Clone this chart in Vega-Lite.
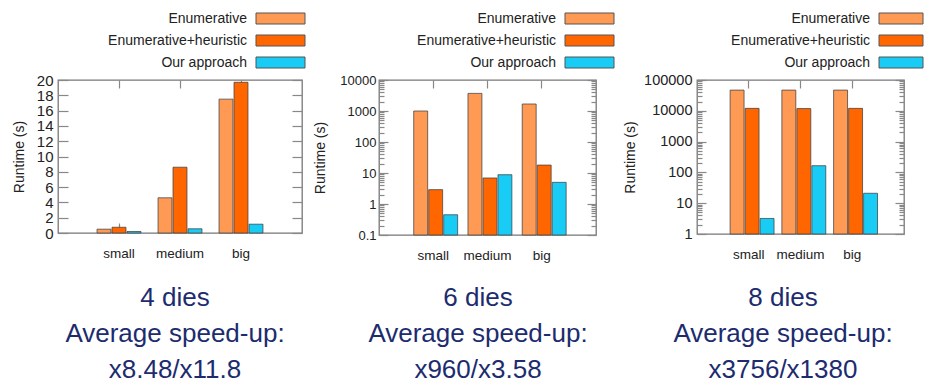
{
  "$schema": "https://vega.github.io/schema/vega-lite/v6.json",
  "padding": {"left": 11, "top": -62, "right": 0, "bottom": 0},
  "background": "white",
  "config": {
    "font": "Liberation Sans",
    "view": {"stroke": "#777777", "strokeWidth": 1.3},
    "axis": {"labelFont": "Liberation Sans", "labelColor": "#222222", "titleFont": "Liberation Sans", "titleFontSize": 14, "titleFontWeight": "normal", "titleColor": "#222222", "grid": false, "domain": false, "tickColor": "#888888", "tickWidth": 1.2, "labelOverlap": false},
    "legend": {"labelFont": "Liberation Sans"},
    "concat": {"spacing": 6}
  },
  "datasets": {
    "d4": [
      {"size": "small", "method": "Enumerative", "runtime": 0.5},
      {"size": "small", "method": "Enumerative+heuristic", "runtime": 0.75},
      {"size": "small", "method": "Our approach", "runtime": 0.2},
      {"size": "medium", "method": "Enumerative", "runtime": 4.6},
      {"size": "medium", "method": "Enumerative+heuristic", "runtime": 8.6},
      {"size": "medium", "method": "Our approach", "runtime": 0.55},
      {"size": "big", "method": "Enumerative", "runtime": 17.5},
      {"size": "big", "method": "Enumerative+heuristic", "runtime": 19.7},
      {"size": "big", "method": "Our approach", "runtime": 1.15}
    ],
    "d6": [
      {"size": "small", "method": "Enumerative", "runtime": 1000},
      {"size": "small", "method": "Enumerative+heuristic", "runtime": 2.9},
      {"size": "small", "method": "Our approach", "runtime": 0.45},
      {"size": "medium", "method": "Enumerative", "runtime": 3700},
      {"size": "medium", "method": "Enumerative+heuristic", "runtime": 6.9},
      {"size": "medium", "method": "Our approach", "runtime": 8.8},
      {"size": "big", "method": "Enumerative", "runtime": 1680},
      {"size": "big", "method": "Enumerative+heuristic", "runtime": 18},
      {"size": "big", "method": "Our approach", "runtime": 5.0}
    ],
    "d8": [
      {"size": "small", "method": "Enumerative", "runtime": 47000},
      {"size": "small", "method": "Enumerative+heuristic", "runtime": 12000},
      {"size": "small", "method": "Our approach", "runtime": 3.2},
      {"size": "medium", "method": "Enumerative", "runtime": 47000},
      {"size": "medium", "method": "Enumerative+heuristic", "runtime": 11800},
      {"size": "medium", "method": "Our approach", "runtime": 165},
      {"size": "big", "method": "Enumerative", "runtime": 47000},
      {"size": "big", "method": "Enumerative+heuristic", "runtime": 12000},
      {"size": "big", "method": "Our approach", "runtime": 21}
    ],
    "c4": [
      {"line": 1, "text": "4 dies"},
      {"line": 2, "text": "Average speed-up:"},
      {"line": 3, "text": "x8.48/x11.8"}
    ],
    "c6": [
      {"line": 1, "text": "6 dies"},
      {"line": 2, "text": "Average speed-up:"},
      {"line": 3, "text": "x960/x3.58"}
    ],
    "c8": [
      {"line": 1, "text": "8 dies"},
      {"line": 2, "text": "Average speed-up:"},
      {"line": 3, "text": "x3756/x1380"}
    ]
  },
  "resolve": {"scale": {"color": "independent"}, "legend": {"color": "independent"}},
  "hconcat": [
    {
      "spacing": 47,
      "bounds": "flush",
      "vconcat": [
        {
          "width": 244, "height": 153,
          "data": {"name": "d4"},
          "resolve": {"axis": {"x": "independent", "y": "independent"}},
          "layer": [
            {
              "mark": {"type": "bar", "stroke": "#404040", "strokeWidth": 1, "strokeOpacity": 0.75},
              "encoding": {
                "x": {"field": "size", "type": "nominal", "sort": ["small", "medium", "big"], "scale": {"paddingInner": 0.28, "paddingOuter": 0.64}, "axis": {"orient": "bottom", "title": null, "ticks": false, "domain": false, "labelAngle": 0, "labelPadding": 13, "labelFontSize": 13.5}},
                "xOffset": {"field": "method", "type": "nominal", "sort": ["Enumerative", "Enumerative+heuristic", "Our approach"], "scale": {"paddingInner": 0.07, "paddingOuter": 0}},
                "y": {"field": "runtime", "type": "quantitative", "scale": {"domain": [0, 20], "nice": false}, "axis": {"orient": "left", "title": "Runtime (s)", "ticks": false, "domain": false, "values": [0, 2, 4, 6, 8, 10, 12, 14, 16, 18, 20], "labelPadding": 5, "titlePadding": 10, "labelFontSize": 15}},
                "color": {"field": "method", "type": "nominal", "sort": ["Enumerative", "Enumerative+heuristic", "Our approach"], "scale": {"domain": ["Enumerative", "Enumerative+heuristic", "Our approach"], "range": ["#FF9A55", "#FF6600", "#19CCF5"]}, "legend": {"orient": "none", "legendX": 168, "legendY": -72, "title": null, "direction": "vertical", "symbolType": "M1.95,-0.55H6.85V0.55H1.95Z", "symbolSize": 400, "symbolStrokeWidth": 1, "symbolStrokeColor": "#555555", "labelAlign": "right", "labelOffset": 0, "labelFontSize": 14, "labelColor": "#222222", "rowPadding": 4, "padding": 0, "labelLimit": 400}}
              }
            },
            {
              "mark": {"type": "bar", "opacity": 0},
              "encoding": {
                "x": {"field": "size", "type": "nominal", "sort": ["small", "medium", "big"], "axis": {"orient": "top", "title": null, "labels": false, "domain": false, "tickSize": -8, "zindex": 0}},
                "y": {"field": "runtime", "type": "quantitative", "axis": {"orient": "left", "title": null, "labels": false, "domain": false, "tickSize": -10, "values": [0, 2, 4, 6, 8, 10, 12, 14, 16, 18, 20], "zindex": 0}}
              }
            },
            {
              "mark": {"type": "bar", "opacity": 0},
              "encoding": {
                "x": {"field": "size", "type": "nominal", "sort": ["small", "medium", "big"], "axis": {"orient": "bottom", "title": null, "labels": false, "domain": false, "tickSize": -10, "zindex": 0}},
                "y": {"field": "runtime", "type": "quantitative", "axis": {"orient": "right", "title": null, "labels": false, "domain": false, "tickSize": -10, "values": [0, 2, 4, 6, 8, 10, 12, 14, 16, 18, 20], "zindex": 0}}
              }
            }
          ]
        },
        {
          "width": 234, "height": 108,
          "view": {"stroke": null},
          "data": {"name": "c4"},
          "mark": {"type": "text", "font": "Liberation Sans", "fontSize": 26, "color": "#1c2c6e"},
          "encoding": {
            "y": {"field": "line", "type": "ordinal", "axis": null},
            "text": {"field": "text", "type": "nominal"}
          }
        }
      ]
    },
    {
      "spacing": 45,
      "bounds": "flush",
      "vconcat": [
        {
          "width": 217, "height": 155,
          "data": {"name": "d6"},
          "resolve": {"axis": {"x": "independent", "y": "independent"}},
          "layer": [
            {
              "mark": {"type": "bar", "stroke": "#404040", "strokeWidth": 1, "strokeOpacity": 0.75},
              "encoding": {
                "x": {"field": "size", "type": "nominal", "sort": ["small", "medium", "big"], "scale": {"paddingInner": 0.28, "paddingOuter": 0.64}, "axis": {"orient": "bottom", "title": null, "ticks": false, "domain": false, "labelAngle": 0, "labelPadding": 13, "labelFontSize": 13.5}},
                "xOffset": {"field": "method", "type": "nominal", "sort": ["Enumerative", "Enumerative+heuristic", "Our approach"], "scale": {"paddingInner": 0.07, "paddingOuter": 0}},
                "y": {"field": "runtime", "type": "quantitative", "scale": {"type": "log", "domain": [0.1, 10000], "nice": false}, "axis": {"orient": "left", "title": "Runtime (s)", "ticks": false, "domain": false, "values": [0.1, 1, 10, 100, 1000, 10000], "format": "~g", "labelPadding": 3, "titlePadding": 12, "labelFontSize": 13}},
                "y2": {"datum": 0.1},
                "color": {"field": "method", "type": "nominal", "sort": ["Enumerative", "Enumerative+heuristic", "Our approach"], "scale": {"domain": ["Enumerative", "Enumerative+heuristic", "Our approach"], "range": ["#FF9A55", "#FF6600", "#19CCF5"]}, "legend": {"orient": "none", "legendX": 156, "legendY": -72, "title": null, "direction": "vertical", "symbolType": "M1.95,-0.55H6.85V0.55H1.95Z", "symbolSize": 400, "symbolStrokeWidth": 1, "symbolStrokeColor": "#555555", "labelAlign": "right", "labelOffset": 0, "labelFontSize": 14, "labelColor": "#222222", "rowPadding": 4, "padding": 0, "labelLimit": 400}}
              }
            },
            {
              "mark": {"type": "bar", "opacity": 0},
              "encoding": {
                "x": {"field": "size", "type": "nominal", "sort": ["small", "medium", "big"], "axis": {"orient": "top", "title": null, "labels": false, "domain": false, "tickSize": -8, "zindex": 0}},
                "y": {"field": "runtime", "type": "quantitative", "axis": {"orient": "left", "title": null, "labels": false, "domain": false, "tickSize": -9, "values": [0.1, 1, 10, 100, 1000, 10000], "zindex": 0}},
                "y2": {"datum": 0.1}
              }
            },
            {
              "mark": {"type": "bar", "opacity": 0},
              "encoding": {
                "x": {"field": "size", "type": "nominal", "sort": ["small", "medium", "big"], "axis": {"orient": "bottom", "title": null, "labels": false, "domain": false, "tickSize": -10, "zindex": 0}},
                "y": {"field": "runtime", "type": "quantitative", "axis": {"orient": "right", "title": null, "labels": false, "domain": false, "tickSize": -9, "values": [0.1, 1, 10, 100, 1000, 10000], "zindex": 0}},
                "y2": {"datum": 0.1}
              }
            },
            {
              "mark": {"type": "bar", "opacity": 0},
              "encoding": {
                "x": {"field": "size", "type": "nominal", "sort": ["small", "medium", "big"], "axis": null},
                "y": {"field": "runtime", "type": "quantitative", "axis": {"orient": "left", "title": null, "labels": false, "domain": false, "tickSize": -5, "values": [0.2, 0.3, 0.4, 0.5, 0.6, 0.7, 0.8, 0.9, 2, 3, 4, 5, 6, 7, 8, 9, 20, 30, 40, 50, 60, 70, 80, 90, 200, 300, 400, 500, 600, 700, 800, 900, 2000, 3000, 4000, 5000, 6000, 7000, 8000, 9000], "zindex": 0}},
                "y2": {"datum": 0.1}
              }
            },
            {
              "mark": {"type": "bar", "opacity": 0},
              "encoding": {
                "x": {"field": "size", "type": "nominal", "sort": ["small", "medium", "big"], "axis": null},
                "y": {"field": "runtime", "type": "quantitative", "axis": {"orient": "right", "title": null, "labels": false, "domain": false, "tickSize": -5, "values": [0.2, 0.3, 0.4, 0.5, 0.6, 0.7, 0.8, 0.9, 2, 3, 4, 5, 6, 7, 8, 9, 20, 30, 40, 50, 60, 70, 80, 90, 200, 300, 400, 500, 600, 700, 800, 900, 2000, 3000, 4000, 5000, 6000, 7000, 8000, 9000], "zindex": 0}},
                "y2": {"datum": 0.1}
              }
            }
          ]
        },
        {
          "width": 198, "height": 108,
          "view": {"stroke": null},
          "data": {"name": "c6"},
          "mark": {"type": "text", "font": "Liberation Sans", "fontSize": 26, "color": "#1c2c6e"},
          "encoding": {
            "y": {"field": "line", "type": "ordinal", "axis": null},
            "text": {"field": "text", "type": "nominal"}
          }
        }
      ]
    },
    {
      "spacing": 46,
      "bounds": "flush",
      "vconcat": [
        {
          "width": 207, "height": 154,
          "data": {"name": "d8"},
          "resolve": {"axis": {"x": "independent", "y": "independent"}},
          "layer": [
            {
              "mark": {"type": "bar", "stroke": "#404040", "strokeWidth": 1, "strokeOpacity": 0.75},
              "encoding": {
                "x": {"field": "size", "type": "nominal", "sort": ["small", "medium", "big"], "scale": {"paddingInner": 0.28, "paddingOuter": 0.64}, "axis": {"orient": "bottom", "title": null, "ticks": false, "domain": false, "labelAngle": 0, "labelPadding": 13, "labelFontSize": 13.5}},
                "xOffset": {"field": "method", "type": "nominal", "sort": ["Enumerative", "Enumerative+heuristic", "Our approach"], "scale": {"paddingInner": 0.07, "paddingOuter": 0}},
                "y": {"field": "runtime", "type": "quantitative", "scale": {"type": "log", "domain": [1, 100000], "nice": false}, "axis": {"orient": "left", "title": "Runtime (s)", "ticks": false, "domain": false, "values": [1, 10, 100, 1000, 10000, 100000], "format": "~g", "labelPadding": 5, "titlePadding": 6, "labelFontSize": 14.5}},
                "y2": {"datum": 1},
                "color": {"field": "method", "type": "nominal", "sort": ["Enumerative", "Enumerative+heuristic", "Our approach"], "scale": {"domain": ["Enumerative", "Enumerative+heuristic", "Our approach"], "range": ["#FF9A55", "#FF6600", "#19CCF5"]}, "legend": {"orient": "none", "legendX": 152, "legendY": -72, "title": null, "direction": "vertical", "symbolType": "M1.95,-0.55H6.35V0.55H1.95Z", "symbolSize": 400, "symbolStrokeWidth": 1, "symbolStrokeColor": "#555555", "labelAlign": "right", "labelOffset": 0, "labelFontSize": 14, "labelColor": "#222222", "rowPadding": 4, "padding": 0, "labelLimit": 400}}
              }
            },
            {
              "mark": {"type": "bar", "opacity": 0},
              "encoding": {
                "x": {"field": "size", "type": "nominal", "sort": ["small", "medium", "big"], "axis": {"orient": "top", "title": null, "labels": false, "domain": false, "tickSize": -8, "zindex": 0}},
                "y": {"field": "runtime", "type": "quantitative", "axis": {"orient": "left", "title": null, "labels": false, "domain": false, "tickSize": -9, "values": [1, 10, 100, 1000, 10000, 100000], "zindex": 0}},
                "y2": {"datum": 1}
              }
            },
            {
              "mark": {"type": "bar", "opacity": 0},
              "encoding": {
                "x": {"field": "size", "type": "nominal", "sort": ["small", "medium", "big"], "axis": {"orient": "bottom", "title": null, "labels": false, "domain": false, "tickSize": -10, "zindex": 0}},
                "y": {"field": "runtime", "type": "quantitative", "axis": {"orient": "right", "title": null, "labels": false, "domain": false, "tickSize": -9, "values": [1, 10, 100, 1000, 10000, 100000], "zindex": 0}},
                "y2": {"datum": 1}
              }
            },
            {
              "mark": {"type": "bar", "opacity": 0},
              "encoding": {
                "x": {"field": "size", "type": "nominal", "sort": ["small", "medium", "big"], "axis": null},
                "y": {"field": "runtime", "type": "quantitative", "axis": {"orient": "left", "title": null, "labels": false, "domain": false, "tickSize": -5, "values": [2, 3, 4, 5, 6, 7, 8, 9, 20, 30, 40, 50, 60, 70, 80, 90, 200, 300, 400, 500, 600, 700, 800, 900, 2000, 3000, 4000, 5000, 6000, 7000, 8000, 9000, 20000, 30000, 40000, 50000, 60000, 70000, 80000, 90000], "zindex": 0}},
                "y2": {"datum": 1}
              }
            },
            {
              "mark": {"type": "bar", "opacity": 0},
              "encoding": {
                "x": {"field": "size", "type": "nominal", "sort": ["small", "medium", "big"], "axis": null},
                "y": {"field": "runtime", "type": "quantitative", "axis": {"orient": "right", "title": null, "labels": false, "domain": false, "tickSize": -5, "values": [2, 3, 4, 5, 6, 7, 8, 9, 20, 30, 40, 50, 60, 70, 80, 90, 200, 300, 400, 500, 600, 700, 800, 900, 2000, 3000, 4000, 5000, 6000, 7000, 8000, 9000, 20000, 30000, 40000, 50000, 60000, 70000, 80000, 90000], "zindex": 0}},
                "y2": {"datum": 1}
              }
            }
          ]
        },
        {
          "width": 172, "height": 108,
          "view": {"stroke": null},
          "data": {"name": "c8"},
          "mark": {"type": "text", "font": "Liberation Sans", "fontSize": 26, "color": "#1c2c6e"},
          "encoding": {
            "y": {"field": "line", "type": "ordinal", "axis": null},
            "text": {"field": "text", "type": "nominal"}
          }
        }
      ]
    }
  ]
}
